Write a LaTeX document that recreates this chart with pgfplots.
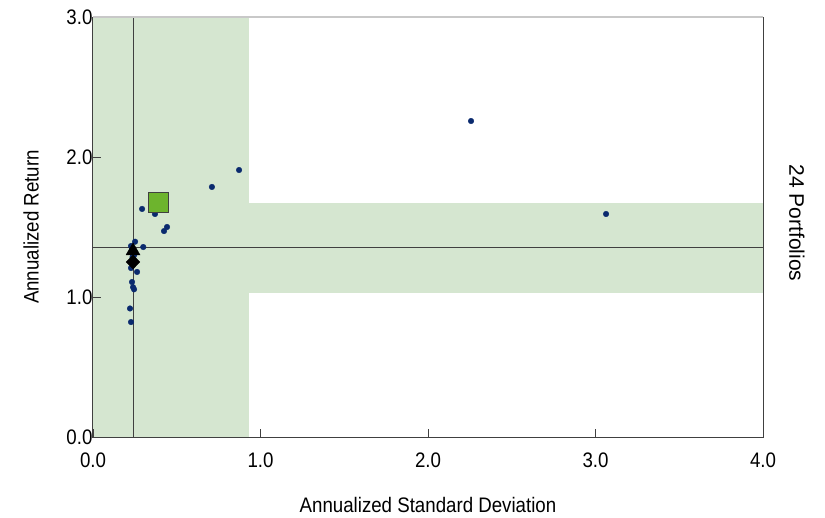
\documentclass[border=0pt]{standalone}
\usepackage{fontspec}
\setmainfont{Liberation Sans}[FakeStretch=0.89]
\newfontfamily\plainfont{Liberation Sans}
\usepackage{pgfplots}
\pgfplotsset{compat=1.18}
\definecolor{bandgreen}{HTML}{D5E6D0}
\definecolor{dotnavy}{HTML}{0A2A6E}
\definecolor{sqgreen}{HTML}{6DB42D}
\definecolor{framegray}{HTML}{404040}
\definecolor{topgray}{HTML}{C8C8C8}
\begin{document}
\begin{tikzpicture}
\path[use as bounding box] (-93pt,-80pt) rectangle (732pt,437pt);
\begin{axis}[
  name=ax,
  at={(0,0)}, anchor=south west,
  scale only axis, width=670pt, height=420pt,
  xmin=0, xmax=4, ymin=0, ymax=3,
  xtick={0,1,2,3,4}, ytick={0,1,2,3},
  xtick pos=bottom, ytick pos=left,
  tick align=inside, major tick length=8pt,
  tick style={framegray, line width=0.6pt},
  axis line style={framegray, line width=1pt},
  axis on top,
  font=\fontsize{21}{25}\selectfont,
  /pgf/number format/assume math mode=true,
  /pgf/number format/fixed,
  /pgf/number format/fixed zerofill,
  /pgf/number format/precision=1,
  xticklabel style={yshift=-12pt},
  yticklabel style={xshift=3pt},
  xlabel={Annualized Standard Deviation},
  ylabel={Annualized Return},
  xlabel style={at={(rel axis cs:0.5,0)}, anchor=center, yshift=-68pt},
  ylabel style={at={(rel axis cs:0,0.5)}, anchor=center, yshift=62pt},
  clip=true,
]
% shaded band
\addplot[fill=bandgreen, draw=none] coordinates {
  (0,0) (0.93,0) (0.93,1.03) (4,1.03) (4,1.67) (0.93,1.67) (0.93,3) (0,3)} -- cycle;
% reference lines
\addplot[framegray, line width=0.8pt] coordinates {(0.239,0) (0.239,3)};
\addplot[framegray, line width=0.8pt] coordinates {(0,1.357) (4,1.357)};
% portfolios
\addplot[only marks, mark=*, mark size=2.8pt, color=dotnavy] coordinates {
  (0.293,1.629) (0.370,1.593) (0.424,1.471) (0.442,1.500)
  (0.251,1.395) (0.300,1.357) (0.227,1.364) (0.227,1.207)
  (0.263,1.179) (0.233,1.107) (0.239,1.070) (0.245,1.055)
  (0.221,0.918) (0.227,0.821) (0.710,1.786) (0.872,1.907)
  (2.257,2.257) (3.063,1.593)
  (0.240,1.310) (0.236,1.285) (0.244,1.265) (0.238,1.240) (0.232,1.335) (0.246,1.300)
};
% benchmark markers
\addplot[only marks, mark=triangle*, mark size=8pt, color=black] coordinates {(0.239,1.33)};
\addplot[only marks, mark=diamond*, mark size=7pt, mark options={xscale=1.3}, color=black] coordinates {(0.239,1.25)};
\addplot[only marks, mark=square*, mark size=10pt, mark options={fill=sqgreen, draw=framegray, line width=0.8pt}] coordinates {(0.388,1.675)};
\end{axis}
\draw[topgray, line width=1.5pt] (ax.north west) -- (ax.north east);
\node[rotate=-90, font=\plainfont\fontsize{21}{25}\selectfont, xshift=0pt] at ([xshift=34pt,yshift=4pt]ax.east) {24 Portfolios};
\end{tikzpicture}
\end{document}
